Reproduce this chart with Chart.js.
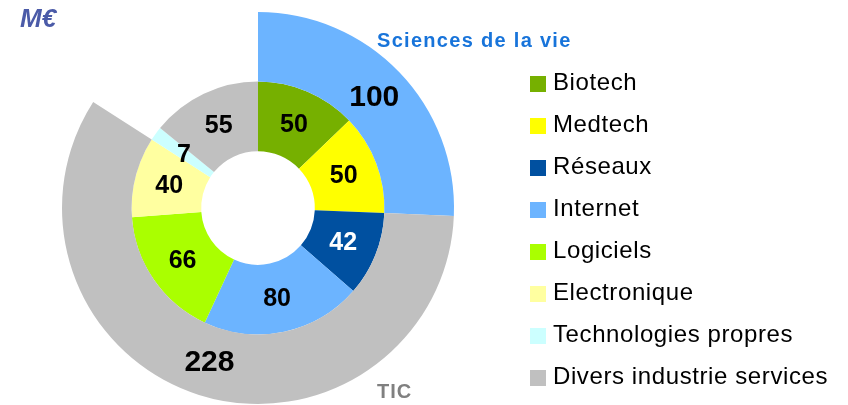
<!DOCTYPE html>
<html>
<head>
<meta charset="utf-8">
<script src="https://cdn.jsdelivr.net/npm/chart.js@4"></script>
<style>
  body { margin: 0; background: #fff; font-family: "Liberation Sans", Arial, sans-serif; }
  #wrap { position: relative; width: 848px; height: 405px; overflow: hidden; }
  #chart { position: absolute; left: 0; top: 0; }
  .txt { position: absolute; line-height: 1; white-space: nowrap; }
  .sw { position: absolute; width: 16px; height: 16px; }
</style>
</head>
<body>
<div id="wrap">
  <canvas id="chart" width="848" height="405"></canvas>
  <div class="txt" id="unit" style="left:20px; top:5px; font-size:26px; font-weight:bold; font-style:italic; color:#4B5BA8; letter-spacing:0px;">M€</div>
  <div class="txt" id="groupA" style="left:377px; top:30px; font-size:20px; font-weight:bold; color:#1874DA; letter-spacing:1.3px;"></div>
  <div class="txt" id="groupB" style="left:377px; top:381px; font-size:20px; font-weight:bold; color:#808080; letter-spacing:1px;"></div>
  <div id="legend"></div>
</div>
<script>
// DATA
const sectors = ["Biotech", "Medtech", "Réseaux", "Internet", "Logiciels", "Electronique", "Technologies propres", "Divers industrie services"];
const sectorValues = [50, 50, 42, 80, 66, 40, 7, 55];
const sectorColors = ["#76B000", "#FFFF00", "#0050A0", "#6CB4FF", "#AAFF00", "#FFFFA0", "#CCFFFF", "#C0C0C0"];
const sectorLabelColors = ["#000", "#000", "#fff", "#000", "#000", "#000", "#000", "#000"];

// outer ring: groups (the rest of the circle stays empty)
const groups = ["Sciences de la vie", "TIC", ""];
const groupValues = [100, 228, 62];
const groupColors = ["#6CB4FF", "#C0C0C0", "rgba(0,0,0,0)"];

// GROUP TITLES
document.getElementById("groupA").innerText = groups[0];
document.getElementById("groupB").innerText = groups[1];

// HTML LEGEND
const legend = document.getElementById("legend");
sectors.forEach((name, i) => {
    const sw = document.createElement("div");
    sw.className = "sw";
    sw.style.left = "530px";
    sw.style.top = (76 + i * 42) + "px";
    sw.style.background = sectorColors[i];
    legend.appendChild(sw);

    const t = document.createElement("div");
    t.className = "txt";
    t.style.left = "553px";
    t.style.top = (69.7 + i * 42) + "px";
    t.style.fontSize = "24px";
    t.style.letterSpacing = "0.6px";
    t.style.color = "#000";
    t.innerText = name;
    legend.appendChild(t);
});

// VALUE LABELS INSIDE THE SLICES
const valueLabels = {
    id: "valueLabels",
    afterDatasetsDraw(chart) {
        const ctx = chart.ctx;
        ctx.save();
        ctx.textAlign = "center";
        ctx.textBaseline = "middle";
        chart.data.datasets.forEach((ds, di) => {
            const meta = chart.getDatasetMeta(di);
            meta.data.forEach((arc, i) => {
                if (ds.labelColors[i] === null) return;
                const p = arc.tooltipPosition();
                ctx.font = "bold " + ds.labelSize + "px 'Liberation Sans', Arial, sans-serif";
                ctx.fillStyle = ds.labelColors[i];
                ctx.fillText(String(ds.data[i]), p.x, p.y + 1);
            });
        });
        ctx.restore();
    }
};

new Chart(document.getElementById("chart"), {
    type: "doughnut",
    data: {
        labels: sectors,
        datasets: [
            {
                data: groupValues,
                backgroundColor: groupColors,
                borderWidth: 0,
                labelSize: 30,
                labelColors: ["#000", "#000", null]
            },
            {
                data: sectorValues,
                backgroundColor: sectorColors,
                borderWidth: 0,
                labelSize: 25,
                labelColors: sectorLabelColors
            }
        ]
    },
    options: {
        responsive: false,
        animation: false,
        cutout: "29%",
        layout: { padding: { left: 62, right: 394, top: 12, bottom: 1 } },
        plugins: {
            legend: { display: false },
            tooltip: { enabled: false }
        }
    },
    plugins: [valueLabels]
});
</script>
</body>
</html>
